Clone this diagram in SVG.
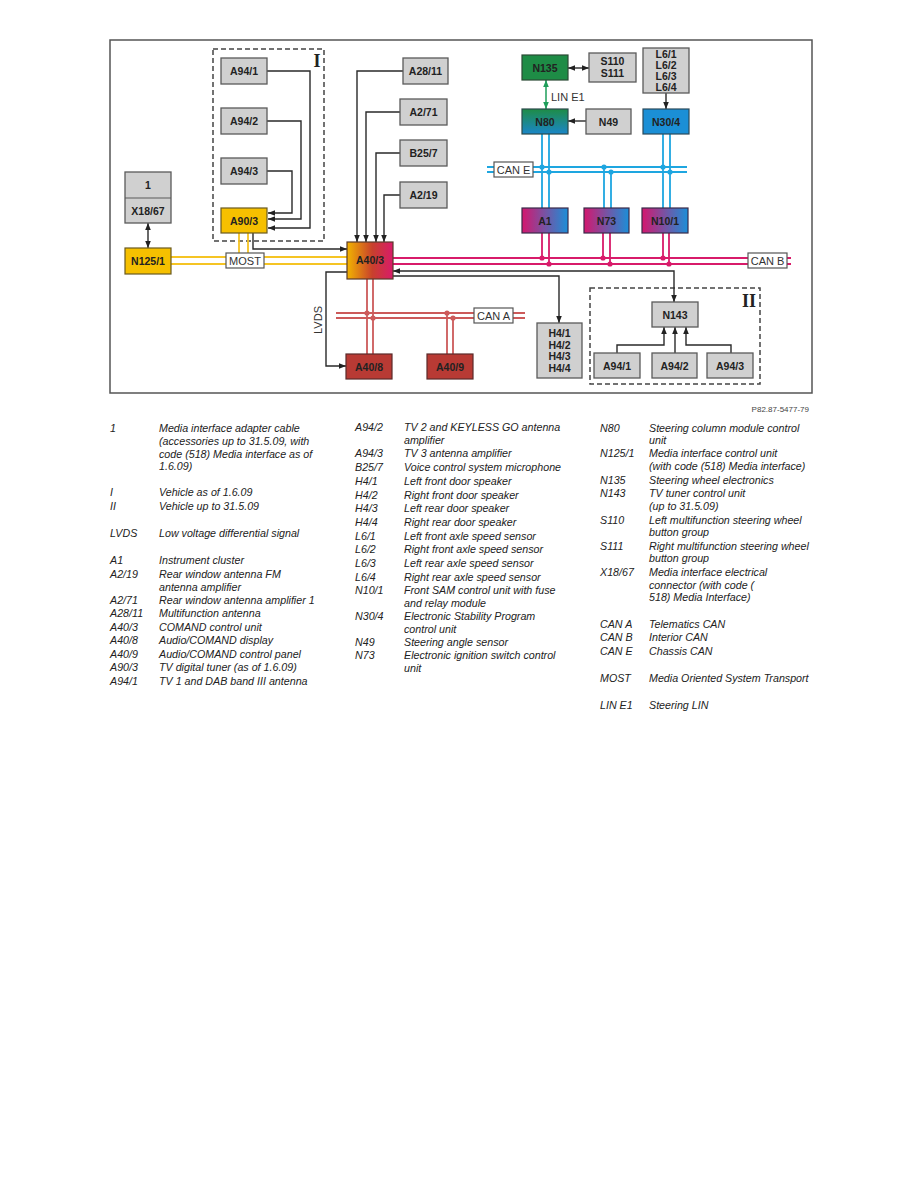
<svg xmlns="http://www.w3.org/2000/svg" width="918" height="1188" viewBox="0 0 918 1188">
<style>
.nd{fill:#d0d0d0;stroke:#5a5a5a;stroke-width:1.3}
.lb{font-family:"Liberation Sans",Arial,sans-serif;font-weight:bold;font-size:10.5px;fill:#222;text-anchor:middle}
.bx{fill:#fff;stroke:#555;stroke-width:1.2}
.bt{font-family:"Liberation Sans",Arial,sans-serif;font-size:11px;fill:#333;text-anchor:middle}
.ln{fill:none;stroke:#2a2a2a;stroke-width:1.4}
.dash{fill:none;stroke:#444;stroke-width:1.5;stroke-dasharray:5,3}
.rn{font-family:"Liberation Serif","Times New Roman",serif;font-weight:bold;font-size:18px;fill:#222;text-anchor:middle}
.most{stroke:#f5c424;stroke-width:1.8;fill:none}
.cane{stroke:#1ea6e0;stroke-width:1.8;fill:none}
.canb{stroke:#d81b6a;stroke-width:1.8;fill:none}
.cana{stroke:#cc5a5a;stroke-width:1.8;fill:none}
.lg{font-family:"Liberation Sans",Arial,sans-serif;font-style:italic;font-size:10.7px;fill:#222}
</style>
<defs>
<marker id="ar" viewBox="0 0 10 10" refX="10" refY="5" markerWidth="7" markerHeight="7" markerUnits="userSpaceOnUse" orient="auto-start-reverse"><path d="M0,1 L10,5 L0,9 z" fill="#222"/></marker>
<marker id="ag" viewBox="0 0 10 10" refX="10" refY="5" markerWidth="7" markerHeight="7" markerUnits="userSpaceOnUse" orient="auto-start-reverse"><path d="M0,1 L10,5 L0,9 z" fill="#1e9e5a"/></marker>
<linearGradient id="gA403" x1="0" y1="0" x2="1" y2="0"><stop offset="0" stop-color="#f2b400"/><stop offset="0.55" stop-color="#c8402c"/><stop offset="1" stop-color="#d81b6a"/></linearGradient>
<linearGradient id="gMB" x1="0" y1="0" x2="1" y2="0"><stop offset="0" stop-color="#d4176e"/><stop offset="1" stop-color="#1b8fd8"/></linearGradient>
<linearGradient id="gN80" x1="0" y1="0" x2="0" y2="1"><stop offset="0" stop-color="#1e8c46"/><stop offset="1" stop-color="#1a86c8"/></linearGradient>
</defs>
<rect x="110" y="40" width="702" height="353" fill="#fff" stroke="#555" stroke-width="1.5"/>

<g id="frames">
<rect class="dash" x="213" y="49" width="111" height="192"/>
<text class="rn" x="317" y="67">I</text>
<rect class="dash" x="590" y="288" width="170" height="96"/>
<text class="rn" x="749" y="307">II</text>
</g>

<g id="connectors">
<path class="most" d="M171,257 H347 M171,264 H347 M239,233 V257 M248,233 V257"/>
<path class="cane" d="M487,167 H687 M487,172 H687 M542,134 V208 M549,134 V208 M604,167 V208 M611,172 V208 M663,134 V208 M670,134 V208"/>
<g fill="#1ea6e0"><circle cx="542" cy="167" r="2.6"/><circle cx="549" cy="172" r="2.6"/><circle cx="604" cy="167" r="2.6"/><circle cx="611" cy="172" r="2.6"/><circle cx="663" cy="167" r="2.6"/><circle cx="670" cy="172" r="2.6"/></g>
<path class="canb" d="M393,258 H791 M393,264 H791 M542,233 V258 M549,233 V264 M603,233 V258 M610,233 V264 M663,233 V258 M669,233 V264"/>
<g fill="#d81b6a"><circle cx="542" cy="258" r="2.6"/><circle cx="549" cy="264" r="2.6"/><circle cx="603" cy="258" r="2.6"/><circle cx="610" cy="264" r="2.6"/><circle cx="663" cy="258" r="2.6"/><circle cx="669" cy="264" r="2.6"/></g>
<path class="cana" d="M336,313 H525 M336,318 H525 M367,279 V354 M373,279 V354 M447,313 V354 M453,318 V354"/>
<g fill="#cc5a5a"><circle cx="367" cy="313" r="2.6"/><circle cx="373" cy="318" r="2.6"/><circle cx="447" cy="313" r="2.6"/><circle cx="453" cy="318" r="2.6"/></g>
<path class="ln" d="M267,71 H310 V228 H268" marker-end="url(#ar)"/>
<path class="ln" d="M267,121 H301 V219 H268" marker-end="url(#ar)"/>
<path class="ln" d="M267,171 H292 V213 H268" marker-end="url(#ar)"/>
<path class="ln" d="M403,71 H357 V242" marker-end="url(#ar)"/>
<path class="ln" d="M400,112 H366 V242" marker-end="url(#ar)"/>
<path class="ln" d="M400,153 H376 V242" marker-end="url(#ar)"/>
<path class="ln" d="M400,195 H384 V242" marker-end="url(#ar)"/>
<path class="ln" d="M253,233 V249 H347" marker-end="url(#ar)"/>
<path class="ln" d="M393,271 H674 V302" marker-start="url(#ar)" marker-end="url(#ar)"/>
<path class="ln" d="M393,276 H559 V323" marker-end="url(#ar)"/>
<path class="ln" d="M347,272 H326 V366 H346" marker-end="url(#ar)"/>
<path class="ln" d="M148,223 V248" marker-start="url(#ar)" marker-end="url(#ar)"/>
<path class="ln" d="M568,68 H589" marker-start="url(#ar)" marker-end="url(#ar)"/>
<path class="ln" d="M666,93 V109" marker-end="url(#ar)"/>
<path class="ln" d="M586,121 H568" marker-end="url(#ar)"/>
<path class="ln" d="M617,353 V345 H664 V327" marker-end="url(#ar)"/>
<path class="ln" d="M675,353 V327" marker-end="url(#ar)"/>
<path class="ln" d="M731,353 V345 H686 V327" marker-end="url(#ar)"/>
<path d="M546,80 V109" fill="none" stroke="#1e9e5a" stroke-width="1.5" marker-start="url(#ag)" marker-end="url(#ag)"/>
<text x="551" y="101" font-family="Liberation Sans,Arial,sans-serif" font-size="11px" fill="#333">LIN E1</text>
<text transform="translate(322,320) rotate(-90)" font-family="Liberation Sans,Arial,sans-serif" font-size="11px" fill="#333" text-anchor="middle">LVDS</text>
</g>

<g id="bus-labels">
<rect class="bx" x="226" y="253" width="38" height="15"/><text class="bt" x="245" y="264.5">MOST</text>
<rect class="bx" x="494" y="162" width="39" height="15"/><text class="bt" x="513.5" y="173.5">CAN E</text>
<rect class="bx" x="748" y="253" width="39" height="15"/><text class="bt" x="767.5" y="264.5">CAN B</text>
<rect class="bx" x="474" y="308" width="39" height="15"/><text class="bt" x="493.5" y="319.5">CAN A</text>
</g>

<g id="A94-1"><rect class="nd" x="221" y="58" width="46" height="26"/><text class="lb" x="244" y="75">A94/1</text></g>
<g id="A94-2"><rect class="nd" x="221" y="108" width="46" height="26"/><text class="lb" x="244" y="125">A94/2</text></g>
<g id="A94-3"><rect class="nd" x="221" y="158" width="46" height="26"/><text class="lb" x="244" y="175">A94/3</text></g>
<g id="A90-3"><rect x="221" y="208" width="46" height="25" fill="#f6c000" stroke="#6a5a20" stroke-width="1.2"/><text class="lb" x="244" y="224.5">A90/3</text></g>
<g id="X18-67"><rect class="nd" x="125" y="172" width="46" height="51"/><line x1="125" y1="198" x2="171" y2="198" stroke="#5a5a5a" stroke-width="1.2"/><text class="lb" x="148" y="189">1</text><text class="lb" x="148" y="214.5">X18/67</text></g>
<g id="N125-1"><rect x="125" y="248" width="46" height="26" fill="#f6c000" stroke="#6a5a20" stroke-width="1.2"/><text class="lb" x="148" y="265">N125/1</text></g>
<g id="A28-11"><rect class="nd" x="403" y="58" width="45" height="26"/><text class="lb" x="425.5" y="75">A28/11</text></g>
<g id="A2-71"><rect class="nd" x="400" y="99" width="47" height="26"/><text class="lb" x="423.5" y="116">A2/71</text></g>
<g id="B25-7"><rect class="nd" x="400" y="140" width="47" height="26"/><text class="lb" x="423.5" y="157">B25/7</text></g>
<g id="A2-19"><rect class="nd" x="400" y="182" width="47" height="26"/><text class="lb" x="423.5" y="199">A2/19</text></g>
<g id="A40-3"><rect x="347" y="242" width="46" height="37" fill="url(#gA403)" stroke="#5a3a2a" stroke-width="1.2"/><text class="lb" x="370" y="264">A40/3</text></g>
<g id="A40-8"><rect x="346" y="354" width="46" height="25" fill="#b83a34" stroke="#5a2a2a" stroke-width="1.2"/><text class="lb" x="369" y="370.5">A40/8</text></g>
<g id="A40-9"><rect x="427" y="354" width="46" height="25" fill="#b83a34" stroke="#5a2a2a" stroke-width="1.2"/><text class="lb" x="450" y="370.5">A40/9</text></g>
<g id="N135"><rect x="522" y="55" width="46" height="25" fill="#1e8c46" stroke="#2a4a34" stroke-width="1.2"/><text class="lb" x="545" y="71.5">N135</text></g>
<g id="S110-S111"><rect class="nd" x="589" y="53" width="47" height="29"/><text class="lb" x="612.5" y="65">S110</text><text class="lb" x="612.5" y="77">S111</text></g>
<g id="L6"><rect class="nd" x="643" y="48" width="46" height="45"/><text class="lb" x="666" y="58">L6/1</text><text class="lb" x="666" y="69">L6/2</text><text class="lb" x="666" y="80">L6/3</text><text class="lb" x="666" y="91">L6/4</text></g>
<g id="N80"><rect x="522" y="109" width="46" height="25" fill="url(#gN80)" stroke="#2a4a4a" stroke-width="1.2"/><text class="lb" x="545" y="125.5">N80</text></g>
<g id="N49"><rect class="nd" x="586" y="109" width="45" height="25"/><text class="lb" x="608.5" y="125.5">N49</text></g>
<g id="N30-4"><rect x="643" y="109" width="46" height="25" fill="#1b8fd6" stroke="#2a4a5a" stroke-width="1.2"/><text class="lb" x="666" y="125.5">N30/4</text></g>
<g id="A1"><rect x="522" y="208" width="46" height="25" fill="url(#gMB)" stroke="#3a2a4a" stroke-width="1.2"/><text class="lb" x="545" y="224.5">A1</text></g>
<g id="N73"><rect x="584" y="208" width="45" height="25" fill="url(#gMB)" stroke="#3a2a4a" stroke-width="1.2"/><text class="lb" x="606.5" y="224.5">N73</text></g>
<g id="N10-1"><rect x="642" y="208" width="46" height="25" fill="url(#gMB)" stroke="#3a2a4a" stroke-width="1.2"/><text class="lb" x="665" y="224.5">N10/1</text></g>
<g id="H4"><rect class="nd" x="537" y="323" width="45" height="55"/><text class="lb" x="559.5" y="337">H4/1</text><text class="lb" x="559.5" y="348.5">H4/2</text><text class="lb" x="559.5" y="360">H4/3</text><text class="lb" x="559.5" y="371.5">H4/4</text></g>
<g id="N143"><rect class="nd" x="652" y="302" width="46" height="25"/><text class="lb" x="675" y="318.5">N143</text></g>
<g id="A94-1b"><rect class="nd" x="594" y="353" width="46" height="25"/><text class="lb" x="617" y="369.5">A94/1</text></g>
<g id="A94-2b"><rect class="nd" x="652" y="353" width="45" height="25"/><text class="lb" x="674.5" y="369.5">A94/2</text></g>
<g id="A94-3b"><rect class="nd" x="707" y="353" width="46" height="25"/><text class="lb" x="730" y="369.5">A94/3</text></g>

<text x="809" y="412" font-family="Liberation Sans,Arial,sans-serif" font-size="8px" fill="#444" text-anchor="end">P82.87-5477-79</text>

<g id="legend" class="lg">
<text x="110" y="432">1</text><text x="159" y="432">Media interface adapter cable</text>
<text x="159" y="445">(accessories up to 31.5.09, with</text>
<text x="159" y="458">code (518) Media interface as of</text>
<text x="159" y="470">1.6.09)</text>
<text x="110" y="496">I</text><text x="159" y="496">Vehicle as of 1.6.09</text>
<text x="110" y="510">II</text><text x="159" y="510">Vehicle up to 31.5.09</text>
<text x="110" y="537">LVDS</text><text x="159" y="537">Low voltage differential signal</text>
<text x="110" y="564">A1</text><text x="159" y="564">Instrument cluster</text>
<text x="110" y="578">A2/19</text><text x="159" y="578">Rear window antenna FM</text>
<text x="159" y="591">antenna amplifier</text>
<text x="110" y="604">A2/71</text><text x="159" y="604">Rear window antenna amplifier 1</text>
<text x="110" y="617">A28/11</text><text x="159" y="617">Multifunction antenna</text>
<text x="110" y="631">A40/3</text><text x="159" y="631">COMAND control unit</text>
<text x="110" y="644">A40/8</text><text x="159" y="644">Audio/COMAND display</text>
<text x="110" y="658">A40/9</text><text x="159" y="658">Audio/COMAND control panel</text>
<text x="110" y="671">A90/3</text><text x="159" y="671">TV digital tuner (as of 1.6.09)</text>
<text x="110" y="685">A94/1</text><text x="159" y="685">TV 1 and DAB band III antenna</text>

<text x="355" y="431">A94/2</text><text x="404" y="431">TV 2 and KEYLESS GO antenna</text>
<text x="404" y="444">amplifier</text>
<text x="355" y="457">A94/3</text><text x="404" y="457">TV 3 antenna amplifier</text>
<text x="355" y="471">B25/7</text><text x="404" y="471">Voice control system microphone</text>
<text x="355" y="485">H4/1</text><text x="404" y="485">Left front door speaker</text>
<text x="355" y="499">H4/2</text><text x="404" y="499">Right front door speaker</text>
<text x="355" y="512">H4/3</text><text x="404" y="512">Left rear door speaker</text>
<text x="355" y="526">H4/4</text><text x="404" y="526">Right rear door speaker</text>
<text x="355" y="540">L6/1</text><text x="404" y="540">Left front axle speed sensor</text>
<text x="355" y="553">L6/2</text><text x="404" y="553">Right front axle speed sensor</text>
<text x="355" y="567">L6/3</text><text x="404" y="567">Left rear axle speed sensor</text>
<text x="355" y="581">L6/4</text><text x="404" y="581">Right rear axle speed sensor</text>
<text x="355" y="594">N10/1</text><text x="404" y="594">Front SAM control unit with fuse</text>
<text x="404" y="607">and relay module</text>
<text x="355" y="620">N30/4</text><text x="404" y="620">Electronic Stability Program</text>
<text x="404" y="633">control unit</text>
<text x="355" y="646">N49</text><text x="404" y="646">Steering angle sensor</text>
<text x="355" y="659">N73</text><text x="404" y="659">Electronic ignition switch control</text>
<text x="404" y="672">unit</text>

<text x="600" y="432">N80</text><text x="649" y="432">Steering column module control</text>
<text x="649" y="444">unit</text>
<text x="600" y="457">N125/1</text><text x="649" y="457">Media interface control unit</text>
<text x="649" y="470">(with code (518) Media interface)</text>
<text x="600" y="484">N135</text><text x="649" y="484">Steering wheel electronics</text>
<text x="600" y="497">N143</text><text x="649" y="497">TV tuner control unit</text>
<text x="649" y="510">(up to 31.5.09)</text>
<text x="600" y="524">S110</text><text x="649" y="524">Left multifunction steering wheel</text>
<text x="649" y="536">button group</text>
<text x="600" y="550">S111</text><text x="649" y="550">Right multifunction steering wheel</text>
<text x="649" y="562">button group</text>
<text x="600" y="576">X18/67</text><text x="649" y="576">Media interface electrical</text>
<text x="649" y="589">connector (with code (</text>
<text x="649" y="601">518) Media Interface)</text>
<text x="600" y="628">CAN A</text><text x="649" y="628">Telematics CAN</text>
<text x="600" y="641">CAN B</text><text x="649" y="641">Interior CAN</text>
<text x="600" y="655">CAN E</text><text x="649" y="655">Chassis CAN</text>
<text x="600" y="682">MOST</text><text x="649" y="682">Media Oriented System Transport</text>
<text x="600" y="709">LIN E1</text><text x="649" y="709">Steering LIN</text>
</g>
</svg>
